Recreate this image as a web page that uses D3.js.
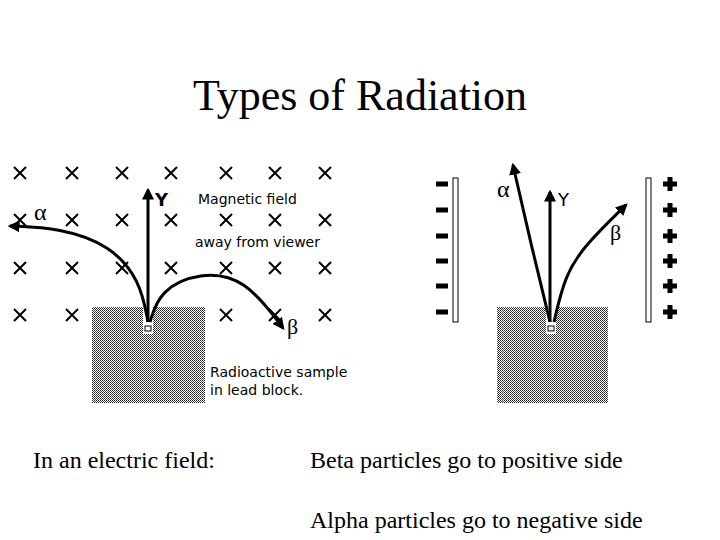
<!DOCTYPE html>
<html><head><meta charset="utf-8">
<script src="https://cdn.jsdelivr.net/npm/d3@7"></script>
<style>body{margin:0;background:#fff}</style></head>
<body><svg id="c" width="720" height="540"></svg>
<script>
const title = "Types of Radiation";
const gridCols = [20, 72, 122, 171, 226, 275, 325];
const gridRows = [173, 220, 268, 315];
const alphaMag = [[148,322],[140,280],[110,245],[60,228],[10,226]];
const betaMag = [[150,322],[160,290],[200,272],[245,278],[283,328]];
const gammaMag = [[148,322],[148,190]];
const alphaEl = [[550,322],[530,240],[513,165]];
const betaEl = [[554,322],[565,275],[585,245],[626,205]];
const gammaEl = [[550,322],[550,192]];
const signRows = [184, 210, 236, 261, 286, 312];
const bottomTexts = [["In an electric field:",33,468],["Beta particles go to positive side",310,468],["Alpha particles go to negative side",310,528]];

const svg = d3.select("#c");
const defs = svg.append("defs");
const pat = defs.append("pattern").attr("id","dots").attr("width",2).attr("height",2).attr("patternUnits","userSpaceOnUse");
pat.append("rect").attr("width",2).attr("height",2).attr("fill","#fff");
pat.append("rect").attr("width",1).attr("height",1).attr("fill","#222");
pat.append("rect").attr("x",1).attr("y",1).attr("width",1).attr("height",1).attr("fill","#444");
const mk = defs.append("marker").attr("id","arr").attr("viewBox","0 0 10 10").attr("refX",8).attr("refY",5)
  .attr("markerWidth",4).attr("markerHeight",4).attr("orient","auto");
mk.append("path").attr("d","M0,0L10,5L0,10z").attr("fill","#000");

svg.append("text").attr("x",360).attr("y",110).attr("text-anchor","middle")
  .attr("font-family","Liberation Serif").attr("font-size",44).text(title);

gridRows.forEach((y,ri)=>gridCols.forEach((x,ci)=>{
  const s=6;
  svg.append("path").attr("d",`M${x-s},${y-s}L${x+s},${y+s}M${x+s},${y-s}L${x-s},${y+s}`)
    .attr("stroke","#000").attr("stroke-width",2);
}));

function block(x0,x1,slot){
  svg.append("rect").attr("x",x0).attr("y",307).attr("width",x1-x0).attr("height",96).attr("fill","url(#dots)");
  svg.append("rect").attr("x",slot-5).attr("y",307).attr("width",10).attr("height",27).attr("fill","#fff");
  svg.append("rect").attr("x",slot-3).attr("y",326).attr("width",6).attr("height",5).attr("fill","none").attr("stroke","#000").attr("stroke-width",1);
}
block(92,205,148);
block(497,608,551);

const line = d3.line().curve(d3.curveBasis);
[alphaMag,betaMag,gammaMag,alphaEl,betaEl,gammaEl].forEach(p=>{
  svg.append("path").attr("d",line(p)).attr("fill","none").attr("stroke","#000").attr("stroke-width",3).attr("marker-end","url(#arr)");
});

const sans = "DejaVu Sans";
const lab = (t,x,y,fs,ff)=>svg.append("text").attr("x",x).attr("y",y).attr("font-family",ff||sans).attr("font-size",fs).text(t);
lab("α",34,220,24,"Liberation Serif");
lab("Y",155,206,18,sans).attr("font-weight","bold");
lab("β",287,334,22,"Liberation Serif");
lab("Magnetic field",198,204,14);
lab("away from viewer",195,247,14);
lab("Radioactive sample",210,377,14);
lab("in lead block.",210,395,14);
lab("α",497,197,24,"Liberation Serif");
lab("Y",558,206,18,sans);
lab("β",610,240,22,"Liberation Serif");

svg.append("rect").attr("x",453).attr("y",178).attr("width",5).attr("height",144).attr("fill","#fff").attr("stroke","#000");
svg.append("rect").attr("x",646).attr("y",178).attr("width",5).attr("height",144).attr("fill","#fff").attr("stroke","#000");
signRows.forEach(y=>{
  svg.append("rect").attr("x",436).attr("y",y-2.5).attr("width",12).attr("height",5);
  svg.append("rect").attr("x",663).attr("y",y-2.5).attr("width",14).attr("height",5);
  svg.append("rect").attr("x",667.5).attr("y",y-7).attr("width",5).attr("height",14);
});

bottomTexts.forEach(([t,x,y])=>lab(t,x,y,24,"Liberation Serif"));
</script></body></html>
